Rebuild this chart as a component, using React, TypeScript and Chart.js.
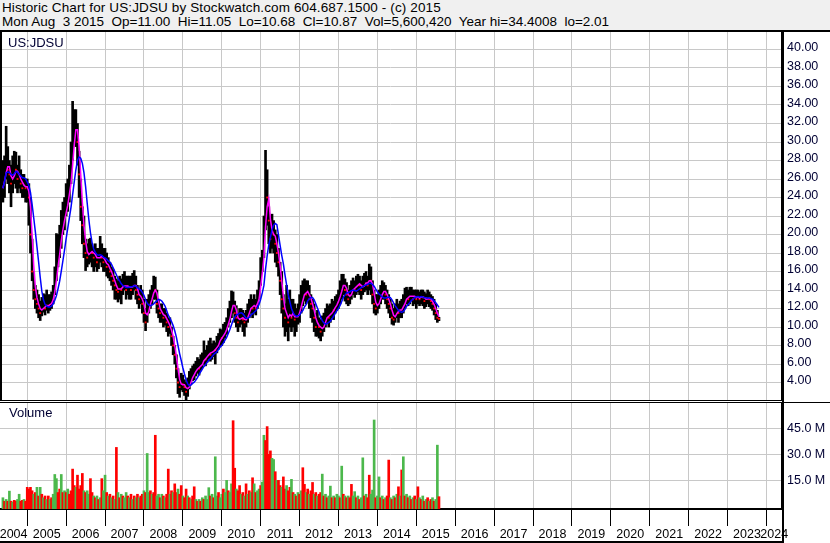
import React, { useEffect, useRef } from 'react';
import { Chart, registerables } from 'chart.js';

Chart.register(...registerables);
document.body.style.margin = '0';

const FONT = 'Arial, "Liberation Sans", sans-serif';

const headerLine1 = 'Historic Chart for US:JDSU by Stockwatch.com 604.687.1500 - (c) 2015';
const headerLine2 =
  'Mon Aug  3 2015  Op=11.00  Hi=11.05  Lo=10.68  Cl=10.87  Vol=5,600,420  Year hi=34.4008  lo=2.01';
const symbolLabel = 'US:JDSU';
const volumeLabel = 'Volume';

// semi-monthly periods starting mid-May 2004
const FIRST_PERIOD = 2004.375;
const PERIODS_PER_YEAR = 24;

const closes = [
  25.0, 26.5, 28.5, 27.0, 26.5, 25.5, 26.0, 27.5, 27.0, 26.0,
  26.5, 25.5, 25.0, 25.5, 25.0, 25.0, 24.0, 20.0, 16.0, 14.0,
  13.0, 12.5, 12.0, 11.5, 12.0, 12.5, 12.0, 12.5, 12.3, 12.5,
  12.8, 13.5, 15.0, 16.5, 18.0, 19.0, 21.0, 21.5, 22.0, 23.5,
  24.0, 25.5, 27.0, 30.0, 32.0, 32.0, 30.0, 26.5, 23.0, 21.0,
  19.0, 18.0, 17.5, 18.0, 18.5, 18.0, 17.5, 18.0, 17.0, 17.5,
  18.0, 17.5, 17.0, 17.2, 16.5, 16.5, 16.0, 15.5, 15.0, 14.5,
  14.0, 13.8, 14.5, 14.0, 14.5, 14.8, 14.0, 14.5, 14.5, 14.0,
  14.5, 15.0, 14.0, 13.5, 13.0, 13.5, 12.5, 11.5, 10.5, 12.0,
  12.5, 13.0, 13.5, 14.5, 14.0, 12.5, 12.0, 11.5, 11.5, 11.0,
  11.2, 10.5, 10.0, 10.0, 9.0, 8.0, 7.0, 5.5, 4.0, 3.5,
  4.0, 3.8, 3.5, 3.0, 3.5, 4.0, 4.5, 5.0, 5.0, 5.5,
  5.8, 5.5, 6.0, 6.3, 6.8, 6.5, 7.0, 7.5, 7.0, 7.3,
  7.8, 7.5, 8.0, 8.5, 9.0, 8.8, 9.3, 9.8, 10.0, 11.0,
  11.5, 12.5, 13.0, 11.5, 11.0, 10.5, 11.0, 11.2, 10.8, 10.5,
  11.0, 11.5, 12.0, 12.5, 12.0, 12.5, 12.0, 13.0, 14.0, 16.0,
  17.5, 19.0, 26.0, 24.0, 21.5, 19.5, 20.5, 20.0, 19.0, 18.0,
  17.0, 15.0, 13.0, 12.0, 11.0, 11.5, 10.5, 12.0, 11.0, 11.5,
  10.8, 11.0, 11.5, 12.0, 13.0, 13.5, 14.0, 13.5, 14.0, 13.0,
  12.5, 12.0, 11.0, 10.0, 10.5, 10.0, 9.5, 10.0, 10.5, 11.0,
  11.5, 11.0, 11.5, 12.0, 11.8, 12.5, 12.8, 13.0, 14.0, 14.5,
  15.0, 14.0, 13.5, 13.0, 13.5, 14.0, 14.5, 14.0, 14.5, 15.0,
  14.5, 14.0, 14.5, 14.8, 15.0, 14.5, 15.5, 15.0, 13.5, 12.5,
  12.0, 12.5, 13.0, 13.5, 14.0, 14.0, 13.5, 13.0, 12.5, 12.0,
  11.0, 10.8, 11.5, 12.0, 11.5, 12.0, 12.0, 12.5, 13.0, 13.5,
  13.0, 13.5, 13.5, 13.0, 13.5, 13.0, 13.3, 13.0, 13.5, 13.2,
  12.8, 13.0, 13.3, 13.0, 12.8, 12.5, 12.0, 11.5, 11.0, 10.87,
];

const highs = [
  28.0, 28.5, 31.7, 29.5, 28.0, 27.5, 28.5, 29.0, 28.9, 27.5,
  28.5, 27.0, 26.5, 26.5, 26.0, 26.0, 25.5, 24.0, 19.5, 16.0,
  14.5, 14.0, 13.5, 12.8, 13.2, 13.6, 13.5, 14.0, 13.5, 13.5,
  13.8, 14.5, 16.5, 20.1, 20.0, 21.0, 22.6, 23.5, 24.0, 25.5,
  26.0, 27.5, 30.0, 34.4, 33.5, 33.5, 32.0, 29.0, 26.0, 23.0,
  22.0, 19.5, 19.0, 19.5, 19.6, 19.0, 18.5, 19.0, 18.5, 18.5,
  19.8, 19.0, 18.5, 18.5, 18.0, 17.5, 17.0, 16.5, 16.2, 15.5,
  15.2, 15.0, 15.5, 15.2, 15.7, 16.0, 15.5, 15.5, 15.5, 15.5,
  15.8, 16.1, 15.5, 14.5, 14.0, 14.5, 14.0, 13.0, 12.0, 13.0,
  13.5, 14.0, 14.5, 15.5, 15.4, 14.0, 13.0, 12.5, 12.5, 12.0,
  12.0, 11.5, 11.0, 11.0, 10.0, 9.0, 8.0, 7.0, 5.5, 4.5,
  5.0, 4.8, 4.3, 4.0, 4.5, 5.2, 5.5, 5.8, 6.0, 6.3,
  6.7, 6.5, 7.0, 7.2, 8.5, 7.5, 8.0, 8.5, 8.8, 8.2,
  8.5, 8.3, 9.0, 9.3, 9.8, 9.7, 10.3, 10.5, 11.0, 12.0,
  12.8, 13.9, 13.8, 12.8, 12.3, 11.5, 12.0, 12.0, 11.8, 11.5,
  11.8, 12.5, 13.0, 13.5, 13.0, 13.5, 13.0, 14.0, 15.0, 17.5,
  18.3, 22.0, 29.1, 27.0, 23.0, 22.0, 22.2, 21.5, 20.5, 20.0,
  18.5, 17.0, 16.0, 13.5, 12.5, 14.5, 13.0, 14.0, 13.0, 13.0,
  12.5, 12.0, 12.5, 13.5, 14.5, 15.0, 15.2, 15.0, 15.0, 14.5,
  13.5, 13.0, 12.5, 11.5, 11.8, 11.0, 10.8, 11.2, 11.5, 12.0,
  12.5, 12.3, 12.5, 13.0, 12.8, 13.3, 13.5, 14.0, 15.0, 15.7,
  15.7, 15.2, 14.8, 14.0, 14.5, 15.0, 15.3, 15.0, 15.5, 15.7,
  15.5, 15.0, 15.5, 15.8, 16.0, 15.5, 16.8, 16.5, 15.0, 14.0,
  13.5, 13.5, 14.0, 14.5, 15.0, 14.8, 14.5, 14.0, 13.5, 13.0,
  12.5, 12.0, 12.5, 13.0, 12.5, 12.8, 13.0, 13.5, 14.2, 14.3,
  14.0, 14.3, 14.3, 14.0, 14.0, 14.0, 14.0, 13.8, 14.0, 14.0,
  13.8, 13.6, 14.0, 13.8, 13.5, 13.3, 13.0, 12.5, 11.8, 11.05,
];

const lows = [
  23.5, 24.0, 26.0, 25.5, 24.5, 23.0, 24.5, 25.5, 25.0, 24.5,
  25.0, 24.5, 24.0, 24.0, 23.5, 23.5, 21.0, 18.0, 15.0, 13.0,
  12.0, 11.5, 11.0, 10.7, 11.2, 11.6, 11.3, 11.8, 11.5, 11.8,
  12.0, 12.5, 13.5, 15.0, 16.5, 17.5, 18.5, 20.0, 20.5, 22.0,
  22.5, 23.5, 25.5, 28.0, 30.0, 29.5, 27.5, 24.0, 21.5, 19.0,
  17.5, 16.1, 16.5, 16.8, 17.0, 16.5, 16.0, 16.5, 16.0, 16.3,
  17.0, 16.5, 16.0, 16.0, 15.5, 15.3, 15.0, 14.5, 14.0, 13.0,
  13.0, 12.7, 13.0, 12.5, 13.5, 14.0, 13.0, 13.5, 13.0, 13.0,
  13.5, 14.0, 13.0, 12.5, 12.0, 12.5, 11.5, 10.5, 9.6, 10.5,
  11.5, 12.0, 12.5, 13.0, 13.0, 11.5, 11.0, 10.5, 10.5, 10.0,
  10.2, 9.5, 9.0, 9.3, 8.0, 7.0, 6.0, 4.5, 2.8, 2.4,
  3.2, 3.0, 2.6, 2.0, 2.5, 3.3, 3.8, 4.2, 4.3, 4.7,
  5.0, 4.8, 5.3, 5.6, 6.0, 5.8, 6.2, 6.5, 6.3, 6.5,
  6.8, 6.0, 7.2, 7.6, 8.0, 8.0, 8.3, 8.8, 9.2, 10.0,
  10.5, 11.0, 11.5, 10.5, 10.0, 9.5, 10.0, 10.3, 9.5, 9.0,
  10.0, 10.5, 11.0, 11.5, 11.0, 11.5, 11.3, 12.0, 13.0, 14.5,
  16.0, 17.5, 20.5, 21.0, 19.0, 18.0, 18.5, 18.0, 17.0, 16.5,
  15.5, 13.5, 11.5, 10.0, 9.0, 9.5, 8.5, 10.0, 9.5, 10.0,
  9.0, 9.5, 10.3, 10.5, 11.5, 12.3, 12.8, 12.5, 12.8, 12.0,
  11.0, 10.5, 9.5, 9.0, 9.0, 8.8, 8.5, 9.0, 9.5, 10.0,
  10.5, 10.0, 10.5, 11.0, 10.8, 11.5, 11.8, 12.0, 12.5, 13.0,
  13.5, 12.8, 12.5, 12.3, 12.5, 13.0, 13.5, 13.2, 13.5, 13.8,
  13.5, 13.0, 13.5, 13.8, 14.0, 13.5, 14.0, 13.5, 12.5, 11.5,
  11.3, 11.5, 12.0, 12.5, 13.0, 13.0, 12.5, 12.0, 11.5, 11.0,
  10.3, 10.2, 10.5, 11.0, 10.5, 11.0, 11.0, 11.5, 12.0, 12.5,
  12.3, 12.5, 12.8, 12.3, 12.5, 12.0, 12.5, 12.3, 12.5, 12.3,
  12.0, 12.2, 12.5, 12.2, 12.0, 11.8, 11.3, 10.8, 10.5, 10.68,
];

// volume in millions of shares
const volumes = [
  5, 3, 4, 3, 8.8, 3, 2.5, 3.5, 3, 4,
  7, 3, 3.5, 4, 3, 11, 10, 11, 9, 7,
  8, 11, 6, 11, 7, 5, 6, 4, 6, 4,
  5, 7, 18.4, 16, 8, 10, 18.4, 8, 9, 8,
  10, 7, 9, 21.5, 12, 11, 18, 10, 12, 19,
  9, 8, 9, 7, 16, 8, 6, 5, 6, 4,
  5, 16, 9, 18, 8, 6, 7, 5, 6, 4,
  34, 8, 5, 7, 6, 5, 8, 6, 5, 7,
  4, 6, 5, 7, 5, 6, 7, 9, 8, 30.5,
  8, 9, 7, 8, 41, 6, 7, 5, 7, 6,
  5, 7, 21.5, 7, 9, 8, 13, 8, 10, 7,
  12, 6, 5, 10, 6, 5, 4, 6, 11.3, 4,
  3, 4, 3, 5, 4, 6, 4, 10.8, 6, 7,
  5, 28.6, 6, 8, 5, 7, 10, 8, 15, 9,
  8, 13, 49.4, 22, 10, 9, 12, 7, 8, 6,
  13, 7, 9, 8, 16.5, 13, 8, 9, 10, 12,
  14, 41, 38, 46, 30, 32, 27.7, 27, 20, 15,
  15, 12, 11, 17, 10, 12, 9, 11, 15.6, 8,
  7, 6, 8, 7, 9, 22.3, 12.7, 8, 10, 7,
  9, 13.8, 7, 8, 6, 7, 8, 18.6, 6, 7,
  5, 6, 11.7, 5, 6, 5, 7, 6, 5, 23.2,
  7, 6, 5, 6, 5, 12.7, 6, 8.5, 5, 6,
  4, 5, 28, 6, 7, 5, 18, 7, 9.4, 49.8,
  5, 6, 17, 5, 6, 4, 5, 6, 26.7, 5,
  4, 6, 5, 7, 11.3, 6, 21, 28.6, 6, 7,
  5, 6, 4, 5, 6, 4, 11.3, 5, 4, 6,
  3, 4, 5, 3, 4, 5, 3, 4, 35.3, 5.6,
];

// g = up period, r = down period
const volumeDirections =
  'grgrgrgrrg' + 'grrgrrrrrg' + 'rgrgrgrgrg' + 'rgggrrgrgr' + 'grrrrgrrrr' +
  'grggrrgrgr' + 'grggrgrgrg' + 'rgrgrggrgr' + 'grgrgrrgrg' + 'grgrrggrgr' +
  'grrgrgrrgr' + 'rgrrgrgrrg' + 'rgrgrgggrg' + 'rggrggrggr' + 'ggrrgrrgrg' +
  'rgrgrgrggr' + 'ggrrrrggrg' + 'rrgrrgrrgr' + 'grgrgrrgrg' + 'rrgrgrrgrg' +
  'rggrgrggrg' + 'rgrgrrggrg' + 'rggrgrrggg' + 'rggrgrgrrg' + 'rgrgrgrgrg' +
  'rgrgrgrgrg' + 'rgrgrgrggr';

const yearLabels = [
  '2004', '2005', '2006', '2007', '2008', '2009', '2010', '2011', '2012', '2013', '2014',
  '2015', '2016', '2017', '2018', '2019', '2020', '2021', '2022', '2023', '2024',
];
const priceTicks = [4, 6, 8, 10, 12, 14, 16, 18, 20, 22, 24, 26, 28, 30, 32, 34, 36, 38, 40];
const volumeTicks = [15, 30, 45];

const X_MIN = 2004.3;
const X_MAX = 2024.4;
const PRICE_MIN = 2;
const PRICE_MAX = 42;
const VOL_MIN = -1.5;
const VOL_MAX = 59.6;
const SHORT_MA = 3;
const LONG_MA = 8;

const GRID = '#c8c8c8';
const LABEL_COLOR = '#000033';
const GREEN = '#4cb84c';
const RED = '#ff0000';

function movingAverage(values: number[], n: number) {
  return values.map((_, i) => {
    const w = values.slice(Math.max(0, i - n + 1), i + 1);
    return w.reduce((a, b) => a + b, 0) / w.length;
  });
}

export default function App() {
  const priceRef = useRef<HTMLCanvasElement>(null);
  const volRef = useRef<HTMLCanvasElement>(null);

  useEffect(() => {
    const dates = closes.map((_, i) => FIRST_PERIOD + i / PERIODS_PER_YEAR);
    const maShort = movingAverage(closes, SHORT_MA);
    const maLong = movingAverage(closes, LONG_MA);
    const yearGrid = yearLabels.slice(1).map((y) => ({ value: Number(y) }));
    // each year label is centred in the visible part of its year
    const yearLabelTicks = yearLabels.map((y) => {
      const a = Math.max(Number(y), X_MIN);
      const b = Math.min(Number(y) + 1, X_MAX);
      return { value: (a + b) / 2 };
    });
    const downCloses = dates
      .map((x, i) => ({ x, y: closes[i], down: i > 0 && closes[i] < closes[i - 1] }))
      .filter((p) => p.down)
      .map(({ x, y }) => ({ x, y }));

    const zeroPad = (s: any) => {
      s.paddingTop = 0;
      s.paddingBottom = 0;
      s.paddingLeft = 0;
      s.paddingRight = 0;
    };

    const priceChart = new Chart(priceRef.current as HTMLCanvasElement, {
      type: 'bar',
      data: {
        datasets: [
          {
            type: 'line',
            data: dates.map((x, i) => ({ x, y: maLong[i] })),
            borderColor: '#0000ff',
            borderWidth: 1.5,
            pointRadius: 0,
            order: 0,
          } as any,
          {
            type: 'line',
            data: dates.map((x, i) => ({ x, y: maShort[i] })),
            borderColor: '#ff00ff',
            borderWidth: 1.5,
            pointRadius: 0,
            order: 1,
          } as any,
          {
            type: 'scatter',
            data: downCloses,
            pointStyle: 'rect',
            pointRadius: 1.3,
            backgroundColor: RED,
            borderWidth: 0,
            order: 2,
          } as any,
          {
            type: 'bar',
            data: dates.map((x, i) => ({ x, y: [lows[i], highs[i]] })),
            backgroundColor: '#000000',
            barThickness: 2,
            order: 3,
          } as any,
        ],
      },
      options: {
        animation: false,
        responsive: false,
        events: [],
        layout: { autoPadding: false, padding: 0 } as any,
        plugins: { legend: { display: false }, tooltip: { enabled: false } },
        scales: {
          x: {
            type: 'linear',
            min: X_MIN,
            max: X_MAX,
            offset: false,
            grid: { color: GRID, drawTicks: false, offset: false },
            border: { display: false },
            ticks: { display: false },
            afterBuildTicks: (s: any) => {
              s.ticks = yearGrid.map((t) => ({ ...t }));
            },
            afterFit: (s: any) => {
              s.height = 0;
              zeroPad(s);
            },
          },
          y: {
            position: 'right',
            min: PRICE_MIN,
            max: PRICE_MAX,
            grid: { color: GRID, drawTicks: false },
            border: { display: true, color: '#000', width: 2 },
            ticks: {
              padding: 5,
              color: LABEL_COLOR,
              font: { family: FONT, size: 12.5 },
              labelOffset: -1.5,
              callback: (v: any) => Number(v).toFixed(2),
            },
            afterBuildTicks: (s: any) => {
              s.ticks = priceTicks.map((v) => ({ value: v }));
            },
            afterFit: (s: any) => {
              s.width = 48;
              zeroPad(s);
            },
          },
        } as any,
      },
    });

    const volChart = new Chart(volRef.current as HTMLCanvasElement, {
      type: 'bar',
      data: {
        datasets: [
          {
            data: dates.map((x, i) => ({ x, y: [VOL_MIN, volumes[i]] })),
            backgroundColor: volumes.map((_, i) => (volumeDirections[i] === 'g' ? GREEN : RED)),
            barThickness: 2,
          } as any,
        ],
      },
      options: {
        animation: false,
        responsive: false,
        events: [],
        layout: { autoPadding: false, padding: { top: 2, left: 0, right: 0, bottom: 0 } } as any,
        plugins: { legend: { display: false }, tooltip: { enabled: false } },
        scales: {
          x: {
            type: 'linear',
            position: 'bottom',
            min: X_MIN,
            max: X_MAX,
            offset: false,
            grid: { color: GRID, drawTicks: true, tickLength: 17, tickColor: '#000', offset: false },
            border: { display: true, color: '#000', width: 2 },
            ticks: { display: false },
            afterBuildTicks: (s: any) => {
              s.ticks = yearGrid.map((t) => ({ ...t }));
            },
            afterFit: (s: any) => {
              s.height = 18;
              zeroPad(s);
            },
          },
          x2: {
            type: 'linear',
            position: 'bottom',
            min: X_MIN,
            max: X_MAX,
            offset: false,
            grid: { display: false, drawTicks: false },
            border: { display: false },
            ticks: {
              autoSkip: false,
              maxRotation: 0,
              minRotation: 0,
              padding: 0,
              color: '#000',
              font: { family: FONT, size: 12.5 },
              callback: (_v: any, idx: number) => yearLabels[idx],
            },
            afterBuildTicks: (s: any) => {
              s.ticks = yearLabelTicks.map((t) => ({ ...t }));
            },
            afterFit: (s: any) => {
              s.height = 16;
              zeroPad(s);
            },
          },
          y: {
            position: 'right',
            min: VOL_MIN,
            max: VOL_MAX,
            grid: { color: GRID, drawTicks: false },
            border: { display: true, color: '#000', width: 2 },
            ticks: {
              padding: 5,
              color: LABEL_COLOR,
              font: { family: FONT, size: 12.5 },
              callback: (v: any) => `${Number(v).toFixed(1)} M`,
            },
            afterBuildTicks: (s: any) => {
              s.ticks = volumeTicks.map((v) => ({ value: v }));
            },
            afterFit: (s: any) => {
              s.width = 48;
              zeroPad(s);
            },
          },
        } as any,
      },
    });

    return () => {
      priceChart.destroy();
      volChart.destroy();
    };
  }, []);

  const line = (left: number, top: number, width: number, height: number) => (
    <div style={{ position: 'absolute', left, top, width, height, background: '#000' }} />
  );

  return (
    <div
      style={{
        position: 'relative',
        width: 830,
        height: 543,
        overflow: 'hidden',
        background: '#fff',
        fontFamily: FONT,
      }}
    >
      <div
        style={{
          position: 'absolute',
          left: 0,
          top: 0,
          width: 830,
          height: 30,
          background: '#f0f0f0',
          color: '#000',
          fontSize: 13.5,
          lineHeight: '14px',
          paddingTop: 1,
          paddingLeft: 2,
          boxSizing: 'border-box',
          whiteSpace: 'pre',
        }}
      >
        <div style={{ letterSpacing: '0.12px' }}>{headerLine1}</div>
        <div>{headerLine2}</div>
      </div>
      <canvas
        ref={priceRef}
        width={830}
        height={370}
        style={{ position: 'absolute', left: 0, top: 31, display: 'block' }}
      />
      <canvas
        ref={volRef}
        width={830}
        height={142}
        style={{ position: 'absolute', left: 0, top: 401, display: 'block' }}
      />
      {line(0, 30, 830, 2)}
      {line(0, 31, 2, 370)}
      {line(0, 400, 782, 1)}
      {line(0, 402, 782, 1)}
      {line(784, 402, 46, 1)}
      {line(782, 31, 2, 512)}
      {line(0, 541, 784, 2)}
      <div
        style={{
          position: 'absolute',
          left: 8,
          top: 36,
          fontSize: 13,
          lineHeight: '13px',
          color: LABEL_COLOR,
        }}
      >
        {symbolLabel}
      </div>
      <div
        style={{
          position: 'absolute',
          left: 9,
          top: 406,
          fontSize: 13,
          lineHeight: '13px',
          color: LABEL_COLOR,
        }}
      >
        {volumeLabel}
      </div>
    </div>
  );
}
